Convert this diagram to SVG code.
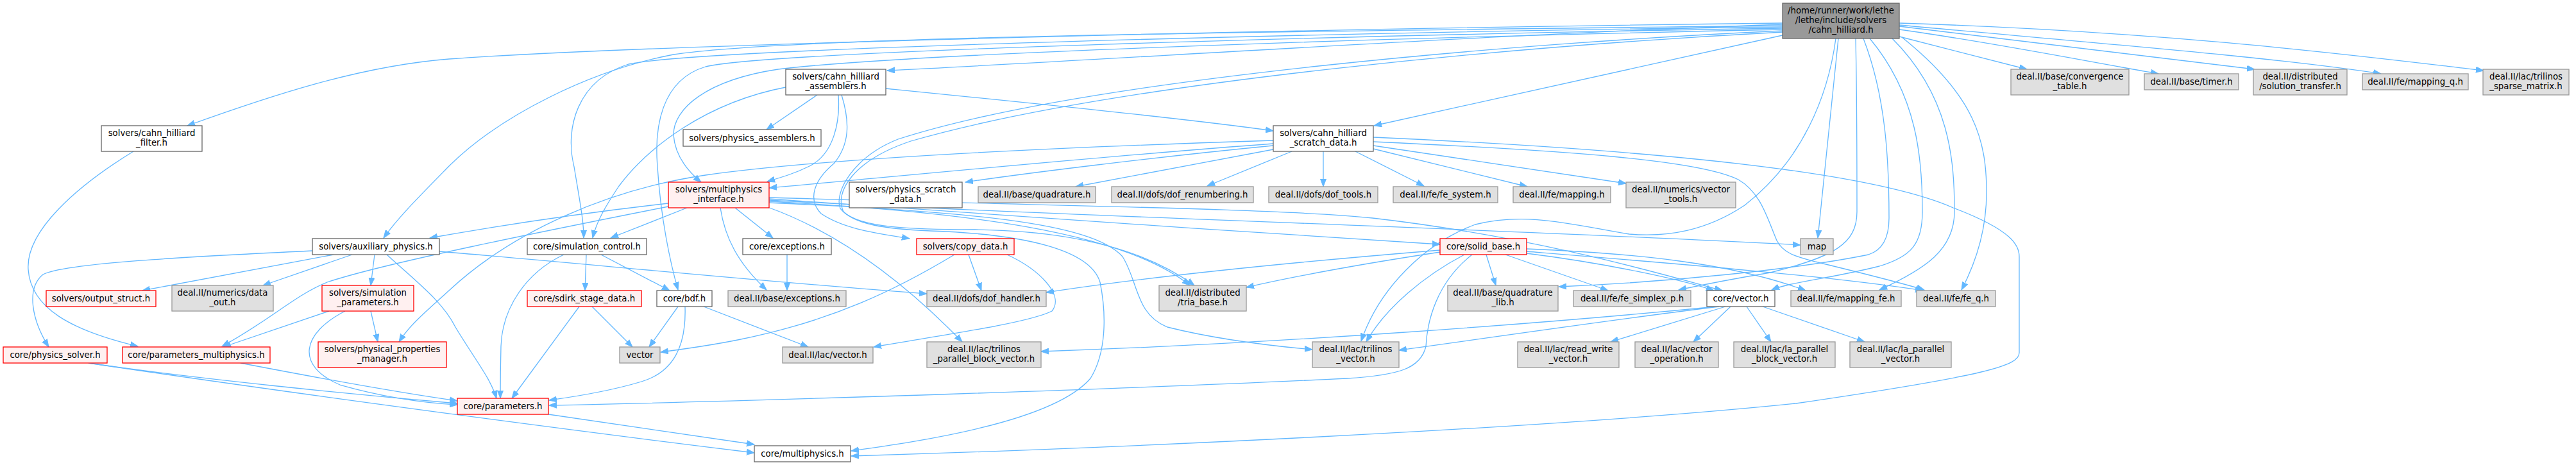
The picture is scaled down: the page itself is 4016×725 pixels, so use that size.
<svg xmlns="http://www.w3.org/2000/svg" width="4016" height="725" viewBox="0 0 4016 725">
<style>
.w{fill:#ffffff;stroke:#666666;stroke-width:1.3}
.r{fill:#fff0f0;stroke:#ff0000;stroke-width:1.3}
.g{fill:#e0e0e0;stroke:#999999;stroke-width:1.3}
.t{fill:#999999;stroke:#666666;stroke-width:1.3}
text{font-family:"DejaVu Sans","Liberation Sans",sans-serif;font-size:13.3px;fill:#000;text-anchor:middle}
#edges path{fill:none;stroke:#63b8ff;stroke-width:1.3;marker-end:url(#a)}
</style>
<defs>
<marker id="a" markerWidth="13" markerHeight="10" refX="12" refY="5" orient="auto" markerUnits="userSpaceOnUse">
<path d="M0,0.5 L12,5 L0,9.5 z" fill="#63b8ff" stroke="#63b8ff" stroke-width="1"/>
</marker>
</defs>
<rect width="4016" height="725" fill="#ffffff"/>
<g id="edges">
<path d="M2779,36 C2000,45 1000,70 700,92 C560,103 420,150 292,196"/>
<path d="M2779,40 C2100,48 1250,55 1050,85 C920,110 780,180 700,259 C650,310 620,340 598,371"/>
<path d="M2779,42 C2100,50 1100,75 980,100 C900,125 880,200 895,260 C905,320 910,345 910,371"/>
<path d="M2779,44 C2100,55 1200,80 1100,104 C1030,125 1020,200 1025,260 C1030,340 1045,410 1057,452"/>
<path d="M2779,46 C2100,60 1400,85 1213,108 C1100,125 1050,170 1050,210 C1052,240 1070,265 1093,284"/>
<path d="M2779,38 C2300,55 1700,95 1383,110"/>
<path d="M2779,55 L2142,196"/>
<path d="M2961,57 L3160,108"/>
<path d="M2961,46 C3100,65 3250,95 3365,115"/>
<path d="M2961,41 C3200,70 3400,95 3515,108"/>
<path d="M2961,39 C3300,70 3550,90 3712,115"/>
<path d="M2961,36 C3400,50 3700,90 3872,110"/>
<path d="M2866,60 L2834,371"/>
<path d="M2862,60 C2850,150 2810,250 2720,320 C2660,360 2600,370 2540,365 C2450,350 2380,330 2300,350 C2220,380 2150,450 2122,532"/>
<path d="M2893,60 C2895,150 2895,250 2895,330 C2895,380 2860,400 2760,425 C2700,435 2650,445 2617,452"/>
<path d="M2905,60 C2940,150 2945,250 2945,340 C2945,370 2935,390 2913,397 C2800,420 2600,440 2430,447"/>
<path d="M2915,60 C2990,150 2997,250 2997,330 C2997,380 2980,400 2930,415 C2850,435 2790,440 2762,452"/>
<path d="M2950,60 C3040,150 3047,250 3047,330 C3047,390 3000,420 2930,452"/>
<path d="M2965,58 C3080,150 3097,220 3097,300 C3097,360 3080,410 3058,452"/>
<path d="M2779,48 C2400,65 1700,120 1400,217 C1330,245 1300,300 1310,325 C1330,350 1380,357 1450,360 C1600,365 1700,390 1715,440 C1725,490 1725,550 1700,590 C1640,660 1420,690 1327,703"/>
<path d="M2779,50 C2400,70 1750,125 1420,220 C1330,250 1300,300 1315,330 C1340,355 1420,358 1520,358 C1700,360 1800,400 1862,445"/>
<path d="M1274,148 L1195,202"/>
<path d="M1381,138 C1600,160 1850,185 1985,204"/>
<path d="M1307,148 C1310,190 1300,240 1262,259 C1240,270 1220,276 1196,283"/>
<path d="M1312,148 C1325,190 1325,225 1300,255 C1270,280 1258,310 1280,333 C1320,360 1380,365 1418,372"/>
<path d="M1225,136 C1100,160 1010,230 965,290 C945,320 930,345 924,371"/>
<path d="M1985,224 C1700,245 1400,275 1199,293"/>
<path d="M1985,227 C1800,245 1600,270 1505,284"/>
<path d="M1985,233 L1677,291"/>
<path d="M2014,236 L1882,290"/>
<path d="M2063,236 L2063,291"/>
<path d="M2113,236 L2220,290"/>
<path d="M2141,232 L2381,291"/>
<path d="M2141,227 L2535,286"/>
<path d="M2141,221 C2450,235 2650,250 2710,280 C2745,300 2755,340 2770,375 C2780,395 2800,400 2830,408 C2900,425 2960,440 3000,452"/>
<path d="M2141,214 C2500,230 2900,260 3045,324 C3140,360 3148,384 3148,400 L3148,550 C3148,570 3100,585 2800,629 C2400,670 1700,700 1327,711"/>
<path d="M1985,219 C1700,228 1300,245 1100,273 C950,295 800,360 700,453 C665,485 640,505 622,533"/>
<path d="M208,236 C120,290 40,360 44,420 C48,480 110,515 215,540"/>
<path d="M1071,324 L952,371"/>
<path d="M1146,324 L1205,371"/>
<path d="M1123,324 C1130,370 1150,410 1195,452"/>
<path d="M1042,317 C900,333 760,355 670,371"/>
<path d="M1042,322 C850,360 600,410 510,440 C460,460 420,500 346,540"/>
<path d="M1197,323 C1300,360 1400,430 1500,533"/>
<path d="M1199,310 C1500,330 1900,360 2245,381"/>
<path d="M1199,312 C1600,335 2300,355 2807,382"/>
<path d="M1199,308 C1600,320 2000,325 2140,340 C2400,370 2600,430 2685,453"/>
<path d="M1199,314 C1500,330 1750,360 1855,445"/>
<path d="M1199,316 C1500,330 1700,345 1750,400 C1775,440 1770,490 1820,510 C1900,530 1990,540 2046,545"/>
<path d="M520,397 L222,453"/>
<path d="M549,397 L410,445"/>
<path d="M584,397 L578,445"/>
<path d="M487,391 C300,400 100,410 67,428 C40,450 50,500 76,541"/>
<path d="M603,397 C650,440 690,470 710,510 C740,560 765,590 774,621"/>
<path d="M685,392 C900,410 1200,440 1445,458"/>
<path d="M513,485 L348,541"/>
<path d="M578,485 L589,533"/>
<path d="M538,485 C470,520 460,570 530,600 C600,620 660,628 713,631"/>
<path d="M138,566 C300,590 550,615 713,629"/>
<path d="M138,566 C400,605 800,660 1176,706"/>
<path d="M375,566 C500,590 620,612 713,625"/>
<path d="M914,397 L912,453"/>
<path d="M937,397 L1044,453"/>
<path d="M879,397 C820,425 783,480 781,540 C780,580 780,600 780,621"/>
<path d="M923,478 L986,541"/>
<path d="M903,478 L798,621"/>
<path d="M1057,478 L1012,541"/>
<path d="M1097,478 L1260,541"/>
<path d="M1068,478 C1070,540 1050,580 1000,595 C950,610 900,618 856,624"/>
<path d="M1227,397 L1227,453"/>
<path d="M1510,397 L1530,453"/>
<path d="M1488,397 C1400,450 1300,500 1150,530 C1100,540 1060,545 1030,549"/>
<path d="M1570,397 C1620,420 1660,460 1640,485 C1600,505 1450,525 1362,541"/>
<path d="M2317,397 L2332,445"/>
<path d="M2347,397 L2507,453"/>
<path d="M2380,395 C2500,410 2620,435 2672,453"/>
<path d="M2380,388 C2550,395 2700,410 2815,453"/>
<path d="M2380,392 C2600,410 2850,430 2998,453"/>
<path d="M2245,390 C2000,410 1800,430 1631,456"/>
<path d="M2245,393 C2100,415 2000,435 1943,448"/>
<path d="M2283,397 C2220,430 2160,480 2130,533"/>
<path d="M2295,397 C2240,440 2225,500 2223,540 C2215,575 2180,585 2100,590 C1800,605 1200,625 856,632"/>
<path d="M2680,478 C2500,500 2300,530 2181,546"/>
<path d="M2676,478 C2400,505 2000,535 1623,548"/>
<path d="M2690,478 L2511,533"/>
<path d="M2698,478 L2640,533"/>
<path d="M2723,478 L2761,533"/>
<path d="M2748,478 L2907,533"/>
<path d="M855,646 L1176,693"/>
</g>
<g id="n_top"><rect class="t" x="2779" y="5" width="182" height="55"/><text x="2870" y="20.5">/home/runner/work/lethe</text><text x="2870" y="35.5">/lethe/include/solvers</text><text x="2870" y="50.5">/cahn_hilliard.h</text></g>
<g id="n_asm"><rect class="w" x="1225" y="108" width="156" height="40"/><text x="1303" y="123.5">solvers/cahn_hilliard</text><text x="1303" y="138.5">_assemblers.h</text></g>
<g id="n_conv"><rect class="g" x="3135" y="108" width="184" height="40"/><text x="3227" y="123.5">deal.II/base/convergence</text><text x="3227" y="138.5">_table.h</text></g>
<g id="n_timer"><rect class="g" x="3343" y="115" width="147" height="25"/><text x="3416.5" y="132">deal.II/base/timer.h</text></g>
<g id="n_soltr"><rect class="g" x="3513" y="108" width="146" height="40"/><text x="3586" y="123.5">deal.II/distributed</text><text x="3586" y="138.5">/solution_transfer.h</text></g>
<g id="n_mapq"><rect class="g" x="3683" y="115" width="165" height="25"/><text x="3765.5" y="132">deal.II/fe/mapping_q.h</text></g>
<g id="n_trisp"><rect class="g" x="3871" y="108" width="134" height="40"/><text x="3938" y="123.5">deal.II/lac/trilinos</text><text x="3938" y="138.5">_sparse_matrix.h</text></g>
<g id="n_filter"><rect class="w" x="158" y="196" width="157" height="40"/><text x="236.5" y="211.5">solvers/cahn_hilliard</text><text x="236.5" y="226.5">_filter.h</text></g>
<g id="n_physasm"><rect class="w" x="1065" y="202" width="215" height="26"/><text x="1172.5" y="219.5">solvers/physics_assemblers.h</text></g>
<g id="n_scratch"><rect class="w" x="1985" y="196" width="156" height="40"/><text x="2063" y="211.5">solvers/cahn_hilliard</text><text x="2063" y="226.5">_scratch_data.h</text></g>
<g id="n_mpi"><rect class="r" x="1042" y="284" width="157" height="40"/><text x="1120.5" y="299.5">solvers/multiphysics</text><text x="1120.5" y="314.5">_interface.h</text></g>
<g id="n_pscratch"><rect class="w" x="1324" y="284" width="176" height="40"/><text x="1412" y="299.5">solvers/physics_scratch</text><text x="1412" y="314.5">_data.h</text></g>
<g id="n_quad"><rect class="g" x="1525" y="291" width="183" height="25"/><text x="1616.5" y="308">deal.II/base/quadrature.h</text></g>
<g id="n_dofren"><rect class="g" x="1733" y="291" width="221" height="25"/><text x="1843.5" y="308">deal.II/dofs/dof_renumbering.h</text></g>
<g id="n_doftools"><rect class="g" x="1978" y="291" width="170" height="25"/><text x="2063" y="308">deal.II/dofs/dof_tools.h</text></g>
<g id="n_fesys"><rect class="g" x="2172" y="291" width="163" height="25"/><text x="2253.5" y="308">deal.II/fe/fe_system.h</text></g>
<g id="n_mapping"><rect class="g" x="2359" y="291" width="152" height="25"/><text x="2435" y="308">deal.II/fe/mapping.h</text></g>
<g id="n_vtools"><rect class="g" x="2535" y="284" width="171" height="40"/><text x="2620.5" y="299.5">deal.II/numerics/vector</text><text x="2620.5" y="314.5">_tools.h</text></g>
<g id="n_aux"><rect class="w" x="487" y="372" width="198" height="25"/><text x="586" y="389">solvers/auxiliary_physics.h</text></g>
<g id="n_simctl"><rect class="w" x="822" y="372" width="186" height="25"/><text x="915" y="389">core/simulation_control.h</text></g>
<g id="n_exc"><rect class="w" x="1158" y="372" width="138" height="25"/><text x="1227" y="389">core/exceptions.h</text></g>
<g id="n_copy"><rect class="r" x="1429" y="372" width="152" height="25"/><text x="1505" y="389">solvers/copy_data.h</text></g>
<g id="n_solid"><rect class="r" x="2245" y="372" width="135" height="25"/><text x="2312.5" y="389">core/solid_base.h</text></g>
<g id="n_map"><rect class="g" x="2807" y="372" width="51" height="25"/><text x="2832.5" y="389">map</text></g>
<g id="n_outs"><rect class="r" x="72" y="453" width="171" height="25"/><text x="157.5" y="470">solvers/output_struct.h</text></g>
<g id="n_dataout"><rect class="g" x="268" y="445" width="158" height="40"/><text x="347" y="460.5">deal.II/numerics/data</text><text x="347" y="475.5">_out.h</text></g>
<g id="n_simparam"><rect class="r" x="502" y="445" width="143" height="40"/><text x="573.5" y="460.5">solvers/simulation</text><text x="573.5" y="475.5">_parameters.h</text></g>
<g id="n_sdirk"><rect class="r" x="822" y="453" width="178" height="25"/><text x="911" y="470">core/sdirk_stage_data.h</text></g>
<g id="n_bdf"><rect class="w" x="1024" y="453" width="86" height="25"/><text x="1067" y="470">core/bdf.h</text></g>
<g id="n_bexc"><rect class="g" x="1135" y="453" width="184" height="25"/><text x="1227" y="470">deal.II/base/exceptions.h</text></g>
<g id="n_dofh"><rect class="g" x="1445" y="453" width="186" height="25"/><text x="1538" y="470">deal.II/dofs/dof_handler.h</text></g>
<g id="n_tria"><rect class="g" x="1807" y="445" width="136" height="40"/><text x="1875" y="460.5">deal.II/distributed</text><text x="1875" y="475.5">/tria_base.h</text></g>
<g id="n_quadlib"><rect class="g" x="2257" y="445" width="172" height="40"/><text x="2343" y="460.5">deal.II/base/quadrature</text><text x="2343" y="475.5">_lib.h</text></g>
<g id="n_simplex"><rect class="g" x="2453" y="453" width="183" height="25"/><text x="2544.5" y="470">deal.II/fe/fe_simplex_p.h</text></g>
<g id="n_cvec"><rect class="w" x="2661" y="453" width="106" height="25"/><text x="2714" y="470">core/vector.h</text></g>
<g id="n_mapfe"><rect class="g" x="2792" y="453" width="172" height="25"/><text x="2878" y="470">deal.II/fe/mapping_fe.h</text></g>
<g id="n_feq"><rect class="g" x="2988" y="453" width="123" height="25"/><text x="3049.5" y="470">deal.II/fe/fe_q.h</text></g>
<g id="n_psolver"><rect class="r" x="5" y="541" width="162" height="25"/><text x="86" y="558">core/physics_solver.h</text></g>
<g id="n_pmulti"><rect class="r" x="191" y="541" width="230" height="25"/><text x="306" y="558">core/parameters_multiphysics.h</text></g>
<g id="n_ppm"><rect class="r" x="496" y="533" width="200" height="40"/><text x="596" y="548.5">solvers/physical_properties</text><text x="596" y="563.5">_manager.h</text></g>
<g id="n_vec"><rect class="g" x="966" y="541" width="63" height="25"/><text x="997.5" y="558">vector</text></g>
<g id="n_lvec"><rect class="g" x="1220" y="541" width="141" height="25"/><text x="1290.5" y="558">deal.II/lac/vector.h</text></g>
<g id="n_tpbv"><rect class="g" x="1445" y="533" width="178" height="40"/><text x="1534" y="548.5">deal.II/lac/trilinos</text><text x="1534" y="563.5">_parallel_block_vector.h</text></g>
<g id="n_tvec"><rect class="g" x="2046" y="533" width="135" height="40"/><text x="2113.5" y="548.5">deal.II/lac/trilinos</text><text x="2113.5" y="563.5">_vector.h</text></g>
<g id="n_rwv"><rect class="g" x="2366" y="533" width="158" height="40"/><text x="2445" y="548.5">deal.II/lac/read_write</text><text x="2445" y="563.5">_vector.h</text></g>
<g id="n_vop"><rect class="g" x="2549" y="533" width="130" height="40"/><text x="2614" y="548.5">deal.II/lac/vector</text><text x="2614" y="563.5">_operation.h</text></g>
<g id="n_lapbv"><rect class="g" x="2703" y="533" width="158" height="40"/><text x="2782" y="548.5">deal.II/lac/la_parallel</text><text x="2782" y="563.5">_block_vector.h</text></g>
<g id="n_lapv"><rect class="g" x="2884" y="533" width="158" height="40"/><text x="2963" y="548.5">deal.II/lac/la_parallel</text><text x="2963" y="563.5">_vector.h</text></g>
<g id="n_params"><rect class="r" x="713" y="621" width="142" height="25"/><text x="784" y="638">core/parameters.h</text></g>
<g id="n_mphys"><rect class="w" x="1176" y="695" width="150" height="25"/><text x="1251" y="712">core/multiphysics.h</text></g>
</svg>
